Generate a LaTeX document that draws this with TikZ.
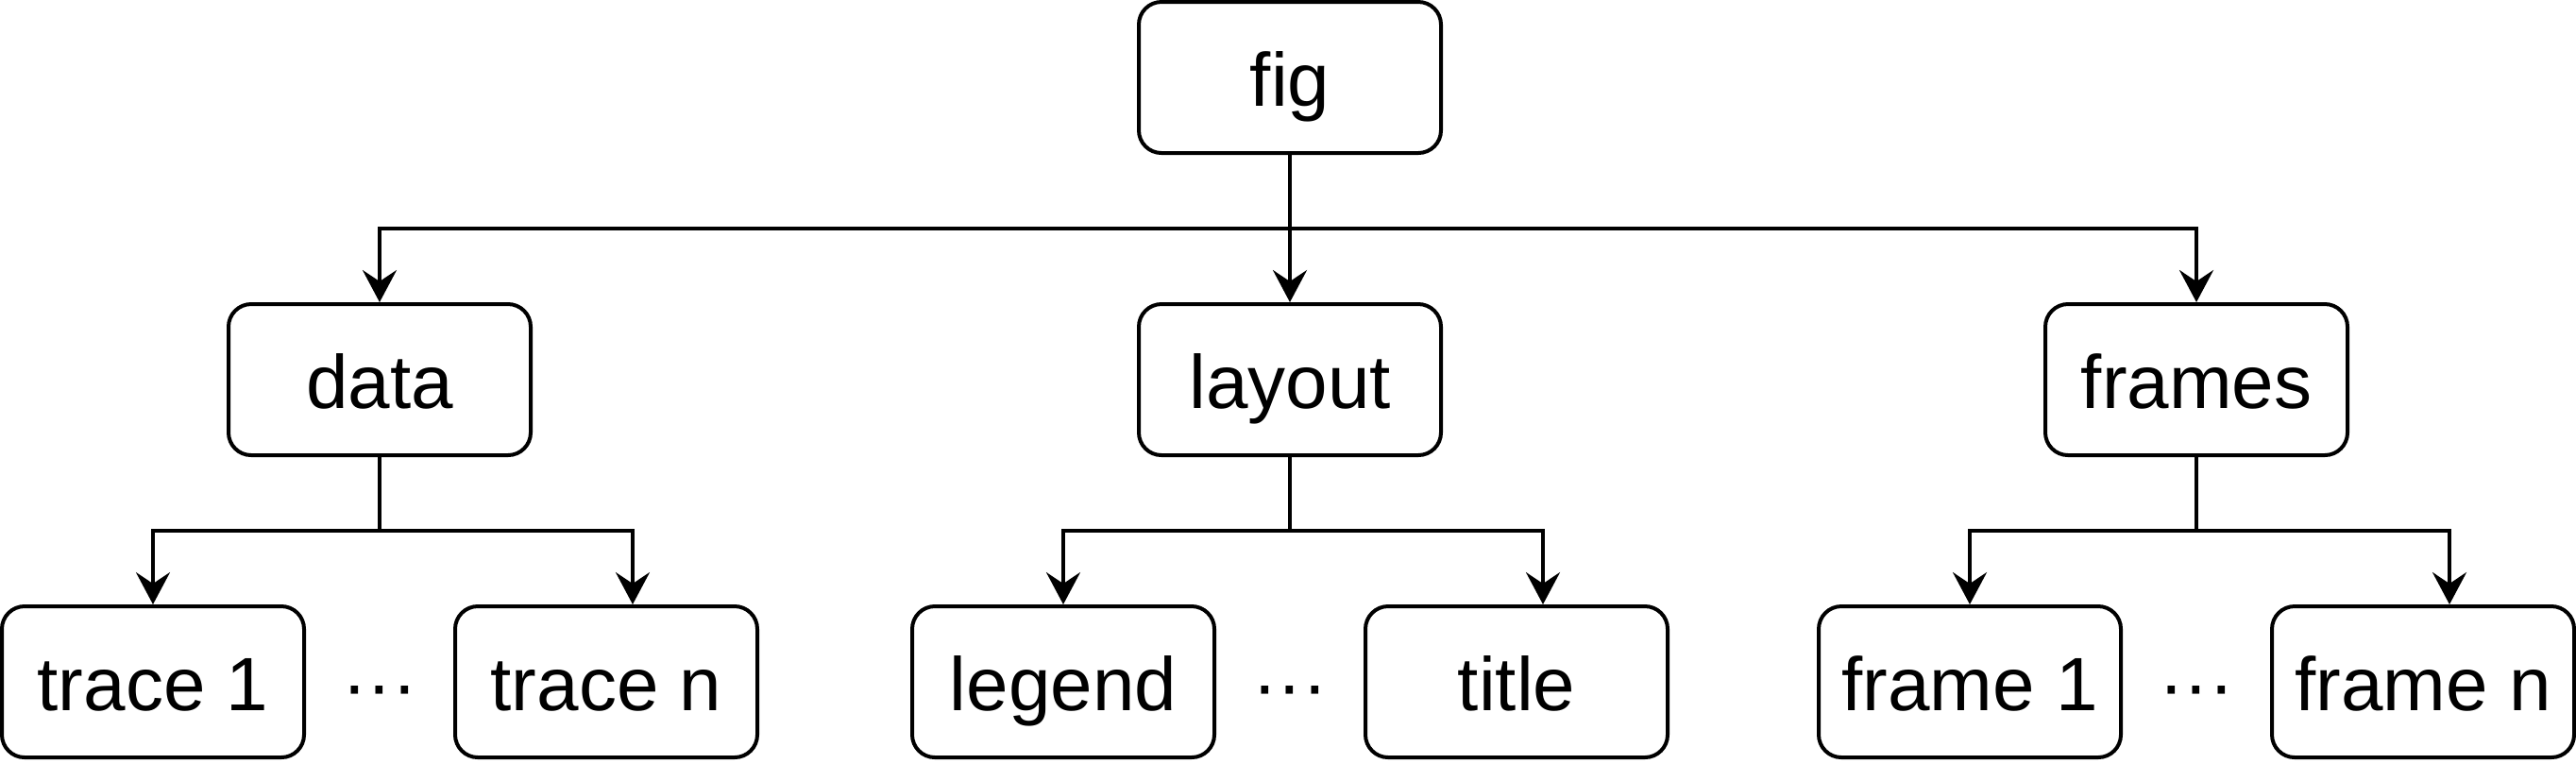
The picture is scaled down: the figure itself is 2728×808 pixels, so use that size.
\documentclass[tikz,border=0pt]{standalone}
\usepackage{fontspec}
\setmainfont{Liberation Sans}
\usetikzlibrary{arrows.meta}
\begin{document}
\begin{tikzpicture}[x=0.25pt,y=-0.25pt,
  box/.style={draw, line width=1pt, rounded corners=6pt, minimum width=80pt, minimum height=40pt, inner sep=0pt, text height=15pt, text depth=0pt, font=\fontsize{20}{24}\selectfont},
  dotsnode/.style={inner sep=0pt, text height=15pt, text depth=0pt, font=\fontsize{20}{24}\selectfont},
  conn/.style={line width=1pt, -{Stealth[length=8.5pt,width=9pt,inset=3pt]}},
  link/.style={line width=1pt}]
\useasboundingbox (0,0) rectangle (2728,808);
\node[box] (fig) at (1366,82) {fig};
\node[box] (data) at (402,402) {data};
\node[box] (layout) at (1366,402) {layout};
\node[box] (frames) at (2326,402) {frames};
\node[box] (trace1) at (162,722) {trace 1};
\node[box] (tracen) at (642,722) {trace n};
\node[box] (legend) at (1126,722) {legend};
\node[box] (title) at (1606,722) {title};
\node[box] (frame1) at (2086,722) {frame 1};
\node[box] (framen) at (2566,722) {frame n};
\node[dotsnode] (e1) at (402,722) {···};
\node[dotsnode] (e2) at (1366,722) {···};
\node[dotsnode] (e3) at (2326,722) {···};
\coordinate (j0) at (1366,242);
\coordinate (j1) at (402,562);
\coordinate (j2) at (1366,562);
\coordinate (j3) at (2326,562);
\draw[link] (fig.south) -- (j0);
\draw[conn] (j0) -| (data.north);
\draw[conn] (j0) -- (layout.north);
\draw[conn] (j0) -| (frames.north);
\draw[link] (data.south) -- (j1);
\draw[conn] (j1) -| (trace1.north);
\draw[conn] (j1) -| ([xshift=7pt]tracen.north);
\draw[link] (layout.south) -- (j2);
\draw[conn] (j2) -| (legend.north);
\draw[conn] (j2) -| ([xshift=7pt]title.north);
\draw[link] (frames.south) -- (j3);
\draw[conn] (j3) -| (frame1.north);
\draw[conn] (j3) -| ([xshift=7pt]framen.north);
\end{tikzpicture}
\end{document}
